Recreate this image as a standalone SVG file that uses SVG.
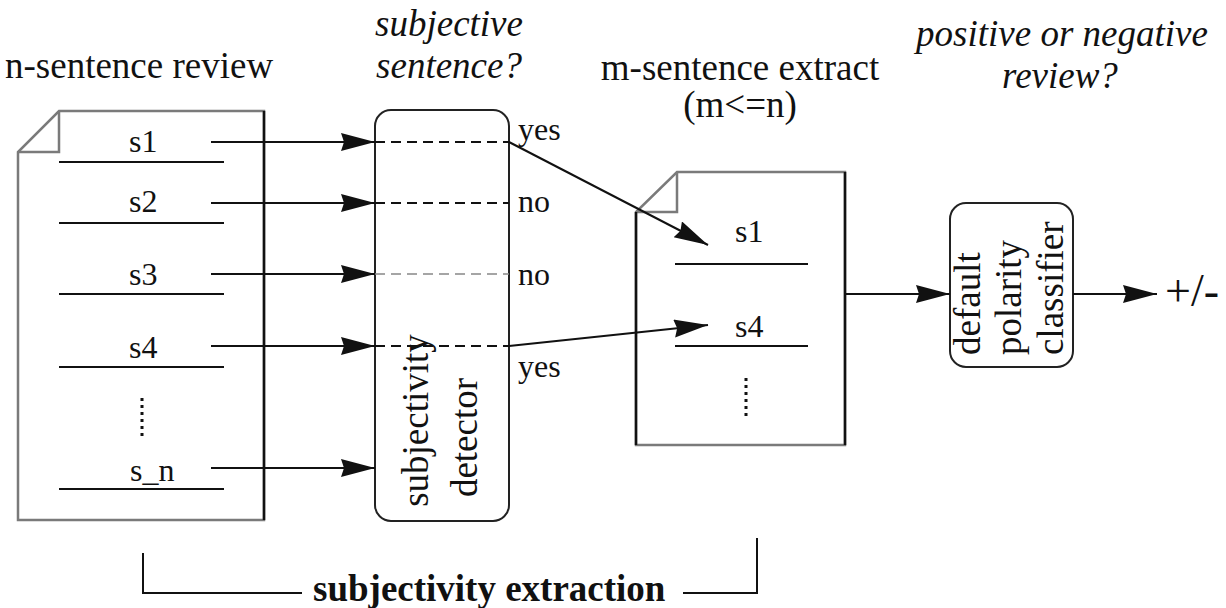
<svg xmlns="http://www.w3.org/2000/svg" width="1226" height="608" viewBox="0 0 1226 608">
<defs>
<style>
text{font-family:"Liberation Serif","Times New Roman",serif;fill:#111}
.h{font-size:37px}
.hi{font-size:37px;font-style:italic}
.lbl{font-size:32px}
.rot{font-size:37px}
.ln{stroke:#111;stroke-width:2;fill:none}
.doc{stroke:#7a7a7a;stroke-width:2.5;fill:#fff}
.dash{stroke:#111;stroke-width:2;stroke-dasharray:10 6;fill:none}
.box{stroke:#222;stroke-width:2;fill:#fff}
.dots{stroke:#111;stroke-width:3;stroke-dasharray:3 4}
</style>
<marker id="ah" markerUnits="userSpaceOnUse" markerWidth="36" markerHeight="20" refX="34" refY="9" orient="auto">
<path d="M0,0 L34,9 L0,18 L3,9 z" fill="#111"/>
</marker>
</defs>
<rect width="1226" height="608" fill="#fff"/>

<g id="headings">
<text class="h" x="5" y="78">n-sentence review</text>
<text class="hi" x="449" y="36" text-anchor="middle">subjective</text>
<text class="hi" x="449" y="78" text-anchor="middle">sentence?</text>
<text class="h" x="740" y="80" text-anchor="middle">m-sentence extract</text>
<text class="h" x="740" y="117" text-anchor="middle">(m&lt;=n)</text>
<text class="hi" x="1062" y="46" text-anchor="middle">positive or negative</text>
<text class="hi" x="1060" y="88" text-anchor="middle">review?</text>
</g>

<g id="review-doc">
<path class="doc" d="M59,111 L264,111 L264,520 L18,520 L18,152 Z"/>
<path d="M59,111 L59,152 L18,152" fill="none" stroke="#7a7a7a" stroke-width="2.5"/>
<line x1="264" y1="111" x2="264" y2="520" stroke="#111" stroke-width="2.5"/>
<line class="ln" x1="59" y1="162" x2="224" y2="162"/>
<line class="ln" x1="59" y1="223" x2="224" y2="223"/>
<line class="ln" x1="59" y1="294" x2="224" y2="294"/>
<line class="ln" x1="59" y1="367" x2="224" y2="367"/>
<line class="ln" x1="59" y1="489" x2="224" y2="489"/>
<text class="lbl" x="129" y="152">s1</text>
<text class="lbl" x="129" y="212">s2</text>
<text class="lbl" x="129" y="285">s3</text>
<text class="lbl" x="129" y="358">s4</text>
<text class="lbl" x="130" y="481">s_n</text>
<line class="dots" x1="142" y1="398" x2="142" y2="437"/>
</g>

<g id="subjectivity-detector">
<rect class="box" x="375" y="110" width="134" height="411" rx="16"/>
<line class="dash" x1="375" y1="142" x2="509" y2="142"/>
<line class="dash" x1="375" y1="203" x2="509" y2="203"/>
<line x1="375" y1="274" x2="509" y2="274" stroke="#888" stroke-width="1.5" stroke-dasharray="10 6"/>
<line class="dash" x1="375" y1="346" x2="509" y2="346"/>
<text class="rot" transform="translate(428,420.5) rotate(-90)" text-anchor="middle">subjectivity</text>
<text class="rot" transform="translate(477,437.5) rotate(-90)" text-anchor="middle">detector</text>
</g>

<g id="decision-labels">
<text class="lbl" x="518" y="140">yes</text>
<text class="lbl" x="518" y="212">no</text>
<text class="lbl" x="518" y="285">no</text>
<text class="lbl" x="518" y="377">yes</text>
</g>

<g id="extract-doc">
<path class="doc" d="M677,172 L845,172 L845,445 L636,445 L636,212 Z"/>
<path d="M677,172 L677,212 L636,212" fill="none" stroke="#7a7a7a" stroke-width="2.5"/>
<path d="M636,212 L636,445 M845,172 L845,445" stroke="#111" stroke-width="2.5" fill="none"/>
<line class="ln" x1="675" y1="264" x2="808" y2="264"/>
<line class="ln" x1="675" y1="346" x2="808" y2="346"/>
<text class="lbl" x="735" y="242">s1</text>
<text class="lbl" x="735" y="337">s4</text>
<line class="dots" x1="746" y1="378" x2="746" y2="417"/>
</g>

<g id="polarity-classifier">
<rect class="box" x="950" y="203" width="123" height="164" rx="16"/>
<text class="rot" transform="translate(980,355) rotate(-90)">default</text>
<text class="rot" transform="translate(1021,355) rotate(-90)">polarity</text>
<text class="rot" transform="translate(1063,355) rotate(-90)">classifier</text>
</g>

<g id="output">
<text x="1165" y="306" style="font-size:46px">+/-</text>
</g>

<g id="connectors">
<line class="ln" x1="211" y1="142" x2="375" y2="142" marker-end="url(#ah)"/>
<line class="ln" x1="211" y1="203" x2="375" y2="203" marker-end="url(#ah)"/>
<line class="ln" x1="211" y1="274" x2="375" y2="274" marker-end="url(#ah)"/>
<line class="ln" x1="211" y1="346" x2="375" y2="346" marker-end="url(#ah)"/>
<line class="ln" x1="211" y1="468" x2="375" y2="468" marker-end="url(#ah)"/>
<line class="ln" x1="509" y1="142" x2="708" y2="245" marker-end="url(#ah)"/>
<line class="ln" x1="509" y1="346" x2="708" y2="325" marker-end="url(#ah)"/>
<line class="ln" x1="845" y1="294" x2="950" y2="294" marker-end="url(#ah)"/>
<line class="ln" x1="1073" y1="294" x2="1157" y2="294" marker-end="url(#ah)"/>
</g>

<g id="extraction-bracket">
<path class="ln" d="M143,553 L143,593 L302,593"/>
<path class="ln" d="M683,593 L757,593 L757,538"/>
<text x="313" y="601" style="font-size:37px;font-weight:bold">subjectivity extraction</text>
</g>
</svg>
